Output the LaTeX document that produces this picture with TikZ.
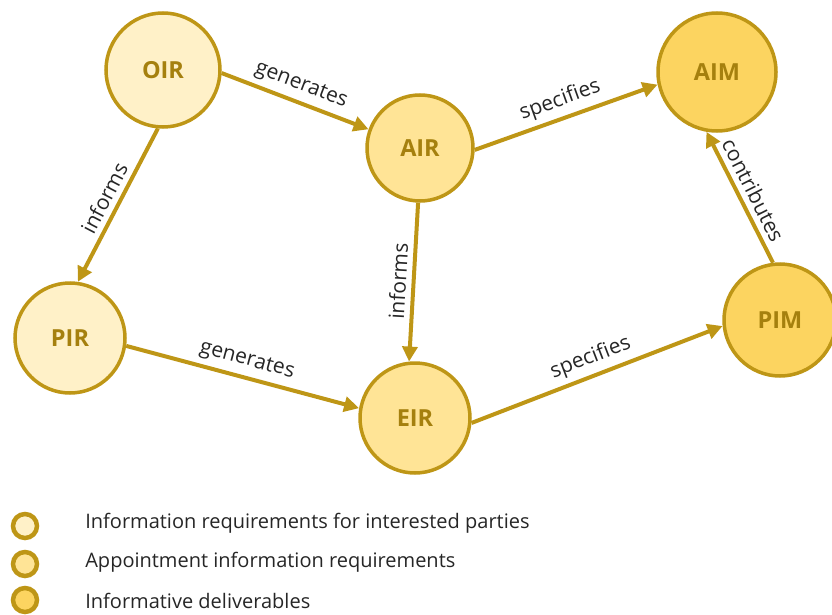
\documentclass[tikz,border=0pt]{standalone}
\usepackage{fontspec}
\setmainfont{Open Sans}
\usetikzlibrary{arrows.meta}

\definecolor{goldline}{RGB}{190,150,22}
\definecolor{goldtext}{RGB}{165,128,14}
\definecolor{reqlight}{RGB}{255,241,200}
\definecolor{reqmid}{RGB}{255,228,150}
\definecolor{deliv}{RGB}{252,212,96}

\tikzset{
  req/.style={circle, draw=goldline, line width=3.5pt, text=goldtext,
    font=\fontsize{23.5}{28}\selectfont\bfseries, inner sep=0pt, minimum size=110pt},
  key/.style={circle, draw=goldline, line width=4.5pt, minimum size=24pt, inner sep=0pt},
  keytext/.style={anchor=west, text=black!85, font=\fontsize{20}{24}\selectfont},
  lbl/.style={sloped, above=2pt, text=black!85, font=\fontsize{21}{25}\selectfont}
}

\begin{document}
\begin{tikzpicture}[x=1pt, y=-1pt, line width=4pt, draw=goldline,
    -{Triangle[length=15pt,width=15pt]}]
        \useasboundingbox (0,0) rectangle (832,615);

        \node[req, fill=reqlight, minimum size=114pt] (oir) at (163,70) {OIR};
        \node[req, fill=reqmid, minimum size=106pt] (air) at (420,148) {AIR};
        \node[req, fill=deliv, minimum size=118pt] (aim) at (717,72) {AIM};
        \node[req, fill=reqlight] (pir) at (70,338) {PIR};
        \node[req, fill=reqmid] (eir) at (415,418) {EIR};
        \node[req, fill=deliv, minimum size=112pt] (pim) at (780,320) {PIM};

        \path (oir.-3) edge node[lbl] {generates} (air.160)
              (air.-2) edge node[lbl] {specifies} (aim.192)
              (oir.-95) edge node[lbl] {informs} (pir.82)
              (air.-92) edge node[lbl] {informs} (eir.96)
              (pir.-8) edge node[lbl] {generates} (eir.170)
              (eir.-5) edge node[lbl] {specifies} (pim.186)
              (pim.97) edge node[lbl] {contributes} (aim.-100);

        % legend
        \node[key, fill=reqlight] (k1) at (25,526) {};
        \node[key, fill=reqmid] (k2) at (25,564) {};
        \node[key, fill=deliv] (k3) at (25,600) {};
        \node[keytext] (t1) at (80,523) {Information requirements for interested parties};
        \node[keytext] (t2) at (80,562) {Appointment information requirements};
        \node[keytext] (t3) at (80,601) {Informative deliverables};
    \end{tikzpicture}
\end{document}
